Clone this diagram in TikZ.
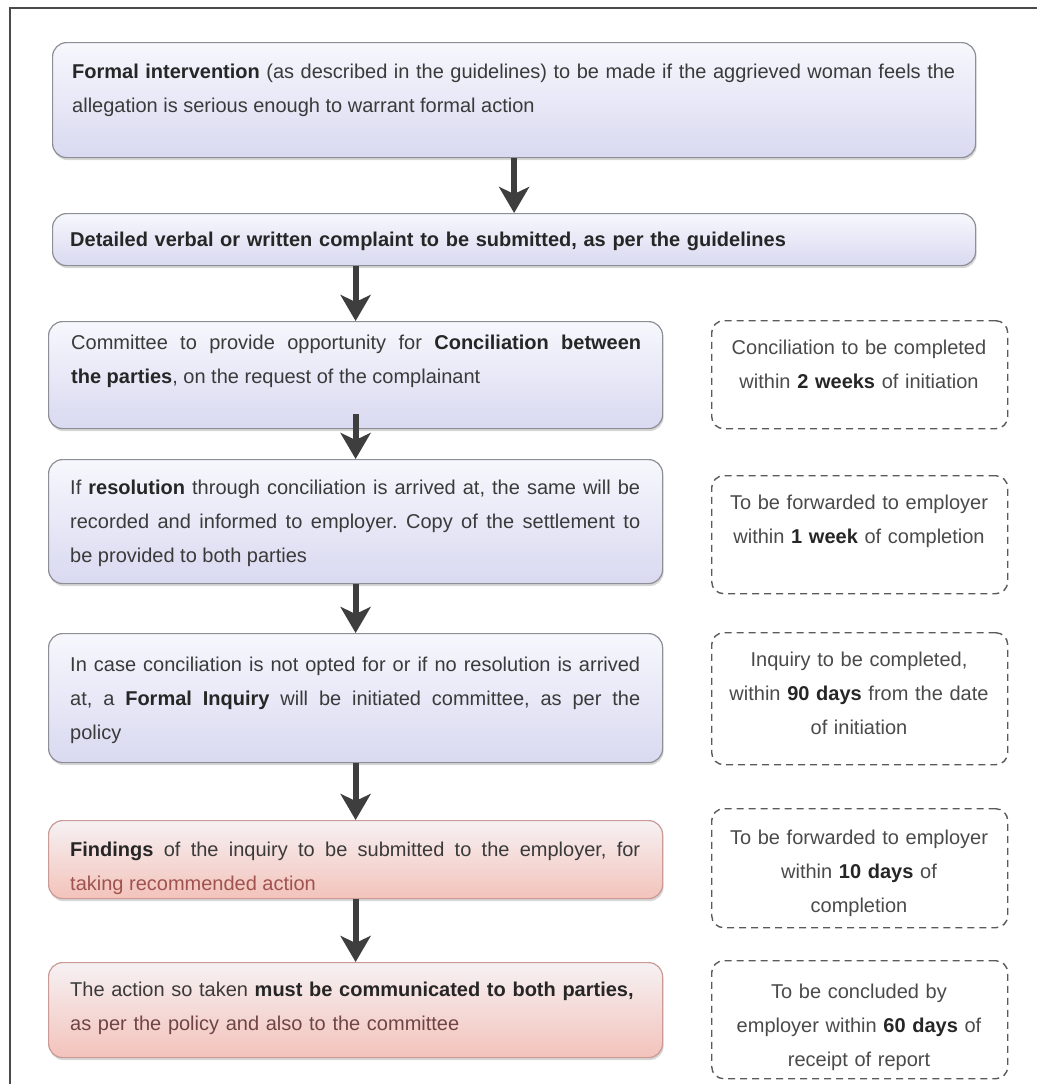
\documentclass[tikz,border=0pt]{standalone}
\usepackage{fontspec}
\setmainfont{Liberation Sans}
\usetikzlibrary{arrows.meta,shadows}
\definecolor{txtc}{HTML}{3A3A3A}
\definecolor{boldc}{HTML}{262626}
\definecolor{dtxtc}{HTML}{4A4A4A}
\definecolor{boxborder}{HTML}{8E8E96}
\definecolor{blueTop}{HTML}{F7F7FD}
\definecolor{blueBot}{HTML}{D9D9F1}
\definecolor{pinkTop}{HTML}{F6F1F3}
\definecolor{pinkBot}{HTML}{F3C3BB}
\definecolor{pinkBorder}{HTML}{C99A96}
\definecolor{dashc}{HTML}{5A5A5A}
\definecolor{arrc}{HTML}{3E3E3E}
\definecolor{framec}{HTML}{4A4A4A}
\definecolor{redtxt}{HTML}{A0534E}
\definecolor{browntxt}{HTML}{704444}
\newcommand{\mybf}[1]{\textbf{\color{boldc}#1}}
\begin{document}
\frenchspacing
\tolerance=10000 \hbadness=10000 \hyphenpenalty=10000 \exhyphenpenalty=10000
\begin{tikzpicture}[x=1pt,y=-1pt,
  flowbox/.style={draw=boxborder, line width=1.2pt, rounded corners=14pt,
    top color=blueTop, bottom color=blueBot,
    drop shadow={shadow xshift=1pt, shadow yshift=-2.5pt, opacity=0.22, fill=black!70},
    anchor=north west, inner sep=0pt},
  pinkbox/.style={flowbox, top color=pinkTop, bottom color=pinkBot, draw=pinkBorder},
  dashbox/.style={draw=dashc, line width=1.4pt, dash pattern=on 7pt off 5pt,
    rounded corners=12pt, anchor=north west, inner sep=0pt},
  ftxt/.style={anchor=base west, inner sep=0pt, text width=570pt, align=justify,
    font=\fontsize{20}{34}\selectfont, text=txtc},
  dtxt/.style={anchor=base, inner sep=0pt, text width=290pt, align=center,
    font=\fontsize{20}{34}\selectfont, text=dtxtc},
  arr/.style={line width=6pt, draw=arrc, -{Stealth[length=26pt,width=30pt,inset=7pt]}}
]
\useasboundingbox (0,0) rectangle (1037,1084);
\fill[white] (0,0) rectangle (1037,1084);
\draw[line width=2pt, framec] (1037,8) -- (10,8) -- (10,1084);

% flow boxes
\node[flowbox, minimum width=923pt, minimum height=115pt] (b1) at (52,42) {};
\node[flowbox, minimum width=923pt, minimum height=52pt] (b2) at (52,213) {};
\node[flowbox, minimum width=614pt, minimum height=107pt] (b3) at (48,321) {};
\node[flowbox, minimum width=614pt, minimum height=124pt] (b4) at (48,459) {};
\node[flowbox, minimum width=614pt, minimum height=129pt] (b5) at (48,633) {};
\node[pinkbox, minimum width=614pt, minimum height=78pt] (b6) at (48,820) {};
\node[pinkbox, minimum width=614pt, minimum height=95pt] (b7) at (48,962) {};

% dashed boxes
\node[dashbox, minimum width=296pt, minimum height=108pt] (d1) at (711,320) {};
\node[dashbox, minimum width=296pt, minimum height=118pt] (d2) at (711,475) {};
\node[dashbox, minimum width=296pt, minimum height=132pt] (d3) at (711,632) {};
\node[dashbox, minimum width=296pt, minimum height=119pt] (d4) at (711,808) {};
\node[dashbox, minimum width=296pt, minimum height=118pt] (d5) at (711,960) {};

% texts of flow boxes
\node[ftxt, text width=883pt] (t1) at (72,78) {\mybf{Formal intervention} (as described in the guidelines) to be made if the aggrieved woman feels the\linebreak allegation is serious enough to warrant formal action};
\node[ftxt, text width=760pt, align=left] (t2) at (70,246) {\mybf{Detailed verbal or written complaint to be submitted, as per the guidelines}};
\node[ftxt] (t3) at (71,349) {Committee to provide opportunity for \mybf{Conciliation between}\linebreak \mybf{the parties}, on the request of the complainant};
\node[ftxt] (t4) at (70,494) {If \mybf{resolution} through conciliation is arrived at, the same will be\linebreak recorded and informed to employer. Copy of the settlement to\linebreak be provided to both parties};
\node[ftxt] (t5) at (70,671) {In case conciliation is not opted for or if no resolution is arrived\linebreak at, a \mybf{Formal Inquiry} will be initiated committee, as per the\linebreak policy};
\node[ftxt] (t6) at (70,856) {\mybf{Findings} of the inquiry to be submitted to the employer, for\linebreak {\color{redtxt}taking recommended action}};
\node[ftxt, align=left] (t7) at (70,996) {The action so taken \mybf{must be communicated to both parties,}\\ {\color{browntxt}as per the policy and also to the committee}};

% texts of dashed boxes
\node[dtxt] (s1) at (859,354) {Conciliation to be completed\\ within \mybf{2 weeks} of initiation};
\node[dtxt] (s2) at (859,509) {To be forwarded to employer\\ within \mybf{1 week} of completion};
\node[dtxt] (s3) at (859,666) {Inquiry to be completed,\\ within \mybf{90 days} from the date\\ of initiation};
\node[dtxt] (s4) at (859,844) {To be forwarded to employer\\ within \mybf{10 days} of\\ completion};
\node[dtxt] (s5) at (859,998) {To be concluded by\\ employer within \mybf{60 days} of\\ receipt of report};

% arrows
\draw[arr] (b1.south) -- (b2.north);
\draw[arr] (b2.south -| b3.south) -- (b3.north);
\draw[arr] ([yshift=15pt]b3.south) -- (b4.north);
\draw[arr] (b4.south) -- (b5.north);
\draw[arr] (b5.south) -- (b6.north);
\draw[arr] (b6.south) -- (b7.north);
\end{tikzpicture}
\end{document}
